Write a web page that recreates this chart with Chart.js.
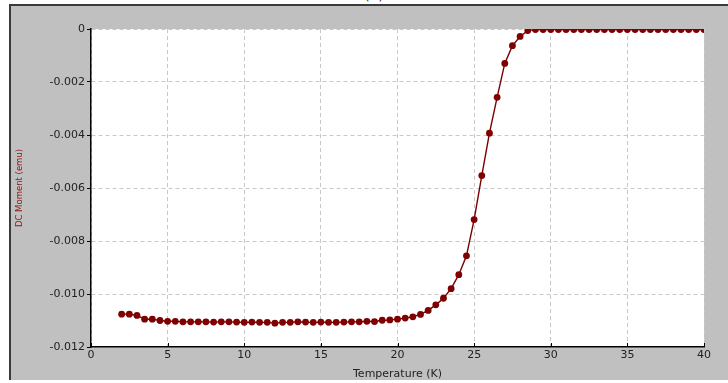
<!DOCTYPE html>
<html>
<head>
<meta charset="utf-8">
<script src="https://cdn.jsdelivr.net/npm/chart.js@4"></script>
<style>
  html, body { margin: 0; padding: 0; background: #fff; overflow: hidden; }
  #wrap { position: relative; width: 728px; height: 383px; overflow: hidden; }
  #panel {
    position: absolute; left: 9px; top: 4px; width: 719px; height: 376px;
    background: #c0c0c0; border-top: 2px solid #3a3a3a; border-left: 2px solid #3a3a3a;
    box-sizing: border-box;
  }
  #tag {
    position: absolute; left: 354px; top: -13px; width: 40px; text-align: center;
    font: 14px "DejaVu Sans", sans-serif; color: #333;
  }
  #mycanvas { position: absolute; left: 0; top: 0; }
</style>
</head>
<body>
<div id="wrap">
  <div id="panel"></div>
  <div id="tag">(a)</div>
  <canvas id="mycanvas" width="728" height="383"></canvas>
</div>
<script>
// Temperatur in K und gemessenes DC-Moment in emu
var temps = [
  2, 2.5, 3, 3.5, 4, 4.5, 5, 5.5, 6, 6.5, 7, 7.5, 8, 8.5, 9, 9.5,
  10, 10.5, 11, 11.5, 12, 12.5, 13, 13.5, 14, 14.5, 15, 15.5, 16, 16.5,
  17, 17.5, 18, 18.5, 19, 19.5, 20, 20.5, 21, 21.5, 22, 22.5, 23, 23.5,
  24, 24.5, 25, 25.5, 26, 26.5, 27, 27.5, 28, 28.5, 29, 29.5, 30, 30.5,
  31, 31.5, 32, 32.5, 33, 33.5, 34, 34.5, 35, 35.5, 36, 36.5, 37, 37.5,
  38, 38.5, 39, 39.5, 40
];
var moments = [
  -0.01076, -0.01076, -0.01081, -0.01095, -0.01095, -0.01100, -0.01103, -0.01103,
  -0.01105, -0.01105, -0.01105, -0.01105, -0.01106, -0.01105, -0.01105, -0.01106,
  -0.01107, -0.01106, -0.01107, -0.01107, -0.01110, -0.01107, -0.01107, -0.01105,
  -0.01106, -0.01107, -0.01106, -0.01107, -0.01107, -0.01106, -0.01105, -0.01105,
  -0.01103, -0.01104, -0.01099, -0.01098, -0.01095, -0.01091, -0.01086, -0.01077,
  -0.01062, -0.01041, -0.01016, -0.00980, -0.00927, -0.00856, -0.00719, -0.00553,
  -0.00393, -0.00258, -0.00130, -0.00063, -0.00028, -0.00006,
  -0.00002, -0.00002, -0.00002, -0.00002, -0.00002, -0.00002, -0.00002, -0.00002,
  -0.00002, -0.00002, -0.00002, -0.00002, -0.00002, -0.00002, -0.00002, -0.00002,
  -0.00002, -0.00002, -0.00002, -0.00002, -0.00002, -0.00002, -0.00002
];
var xTicks = [0, 5, 10, 15, 20, 25, 30, 35, 40];
var yTicks = [0, -0.002, -0.004, -0.006, -0.008, -0.010, -0.012];

var points = [];
for (var i in temps) {
  points.push({x: temps[i], y: moments[i]});
}

// weisser Plotbereich
var plotBg = {
  id: 'plotBg',
  beforeDraw: function (chart) {
    var a = chart.chartArea, ctx = chart.ctx;
    ctx.save();
    ctx.fillStyle = '#ffffff';
    ctx.fillRect(a.left, a.top, a.right - a.left, a.bottom - a.top);
    ctx.restore();
  }
};

// kurze Striche nach innen an der x-Achse
var innerTicks = {
  id: 'innerTicks',
  afterDatasetsDraw: function (chart) {
    var sx = chart.scales.x, ctx = chart.ctx, b = chart.chartArea.bottom;
    ctx.save();
    ctx.strokeStyle = '#000';
    ctx.lineWidth = 1;
    xTicks.forEach(function (t) {
      var px = Math.round(sx.getPixelForValue(t)) + 0.5;
      ctx.beginPath();
      ctx.moveTo(px, b);
      ctx.lineTo(px, b - 4);
      ctx.stroke();
    });
    ctx.restore();
  }
};

var tickFont = {family: '"DejaVu Sans", sans-serif', size: 11};

var ctx = document.getElementById('mycanvas');
var chart = new Chart(ctx, {
  type: 'line',
  data: {
    datasets: [{
      data: points,
      borderColor: '#7a0000',
      backgroundColor: '#7f0000',
      borderWidth: 1.4,
      pointRadius: 3.4,
      pointBorderWidth: 0,
      pointBackgroundColor: '#7f0000',
      tension: 0
    }]
  },
  plugins: [plotBg, innerTicks],
  options: {
    responsive: false,
    animation: false,
    layout: {padding: {left: 0, right: 24, top: 29, bottom: 0}},
    plugins: {legend: {display: false}, tooltip: {enabled: false}},
    scales: {
      x: {
        type: 'linear',
        min: 0, max: 40,
        afterBuildTicks: function (s) { s.ticks = xTicks.map(function (v) { return {value: v}; }); },
        afterFit: function (s) { s.height = 36; },
        grid: {color: '#c8c8c8', drawTicks: false, lineWidth: 1},
        border: {display: true, color: '#000', width: 1.5, dash: [4, 3]},
        ticks: {color: '#222', font: tickFont, padding: 2, maxRotation: 0, autoSkip: false},
        title: {
          display: true, text: 'Temperature (K)', color: '#222',
          font: tickFont, padding: {top: 0, bottom: 2}
        }
      },
      y: {
        min: -0.012, max: 0,
        afterBuildTicks: function (s) { s.ticks = yTicks.map(function (v) { return {value: v}; }); },
        afterFit: function (s) { s.width = 91; },
        grid: {color: '#c8c8c8', tickColor: '#000', tickLength: 4, lineWidth: 1},
        border: {display: true, color: '#000', width: 1.5, dash: [4, 3]},
        ticks: {
          color: '#222', font: tickFont, padding: 2, autoSkip: false,
          callback: function (v) { return v === 0 ? '0' : v.toFixed(3); }
        },
        title: {
          display: true, text: 'DC Moment (emu)', color: '#8b1414',
          font: {family: '"DejaVu Sans", sans-serif', size: 8.5},
          padding: {top: 15, bottom: 0}
        }
      }
    }
  }
});
</script>
</body>
</html>
